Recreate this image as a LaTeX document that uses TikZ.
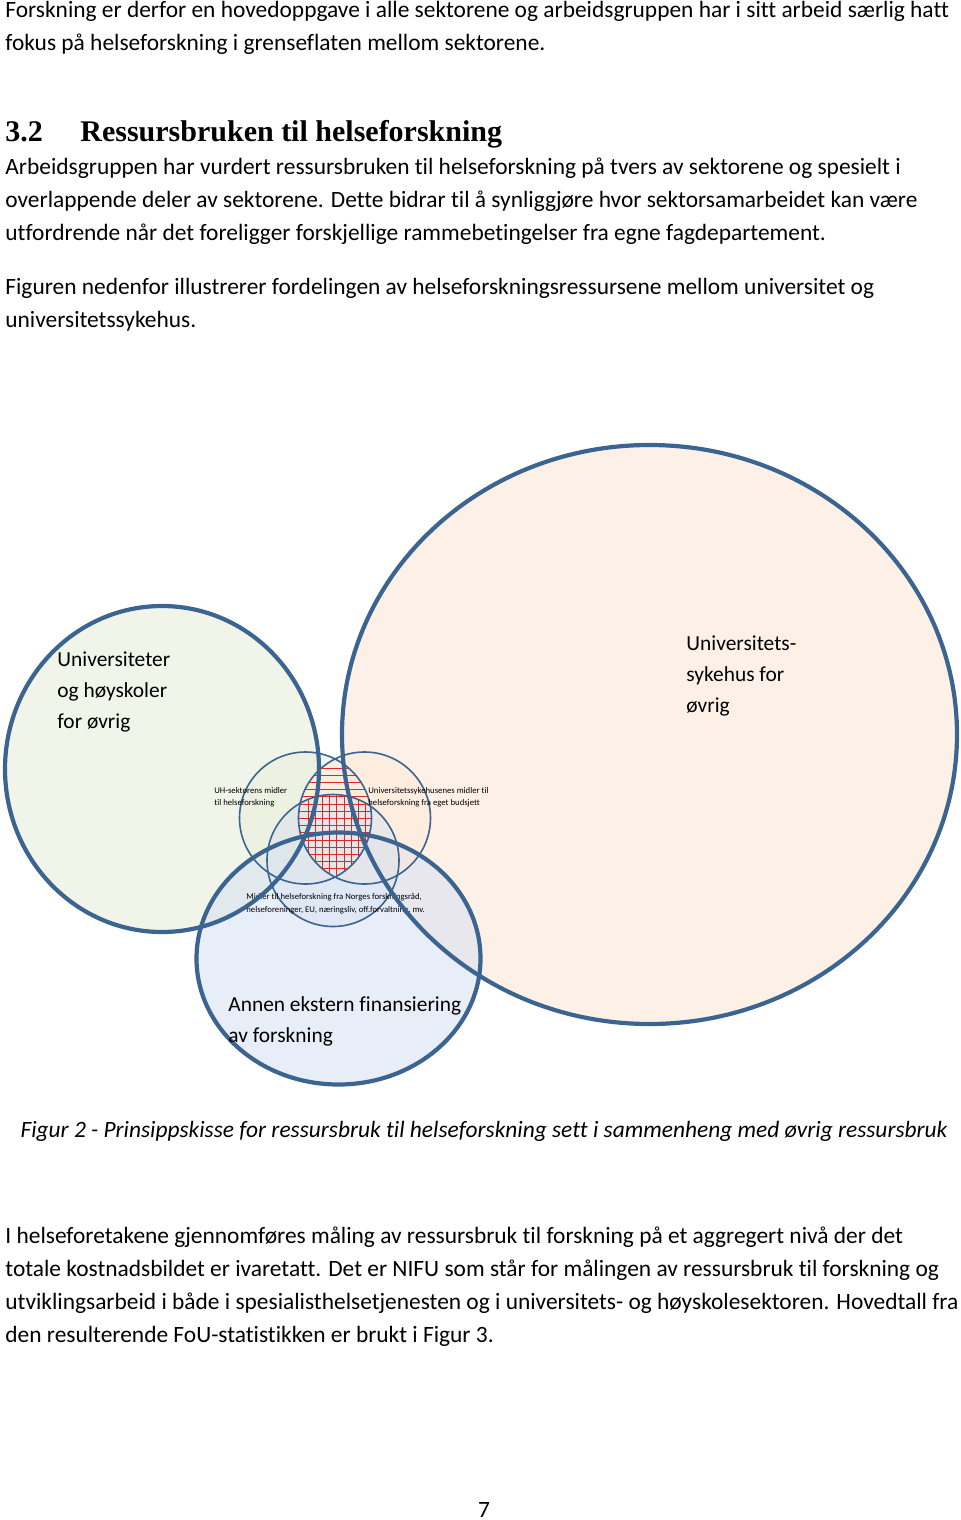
\documentclass[tikz,border=0pt]{standalone}
\usepackage{fontspec}
\setmainfont{Carlito}[Ligatures=NoCommon]
\newfontfamily\headfont{Liberation Serif}
\definecolor{rim}{RGB}{60,100,145}
\definecolor{uhfill}{RGB}{232,237,218}
\definecolor{usfill}{RGB}{252,232,215}
\definecolor{extfill}{RGB}{216,226,242}
\definecolor{gridred}{RGB}{222,40,40}
\tikzset{
  bigring/.style={draw=rim, line width=2.1pt},
  smallring/.style={draw=rim, line width=0.8pt},
  pagetext/.style={anchor=base west, inner sep=0pt, font=\fontsize{11.7}{16.5}\selectfont},
  setname/.style={anchor=base west, inner sep=0pt, font=\fontsize{10.7}{15.5}\selectfont},
  smalltext/.style={anchor=base west, inner sep=0pt, font=\fontsize{4.35}{6.2}\selectfont},
}
\begin{document}
\begin{tikzpicture}[x=0.5pt, y=-0.5pt]
        \useasboundingbox (0,0) rectangle (960,1520);

        \coordinate (bigc) at (649.5,734.5);
        \coordinate (leftc) at (162,769);
        \coordinate (extc) at (338.5,958.5);
        \coordinate (uhc) at (305.5,818);
        \coordinate (usc) at (364.5,818);
        \coordinate (midc) at (333,860.5);

        % store sirkler
        \fill[usfill, fill opacity=0.6] (bigc) ellipse [x radius=307.5, y radius=289.5];
        \fill[uhfill, fill opacity=0.6] (leftc) ellipse [x radius=157, y radius=163];
        \fill[extfill, fill opacity=0.6] (extc) ellipse [x radius=142, y radius=126];

        % små sirkler
        \fill[uhfill, fill opacity=0.5] (uhc) circle [radius=66];
        \fill[usfill, fill opacity=0.5] (usc) circle [radius=66];
        \fill[extfill, fill opacity=0.5] (midc) circle [radius=66];

        \begin{scope}
            \clip (uhc) circle [radius=66];
            \clip (usc) circle [radius=66];
            \foreach \y in {768,775.2,...,884}
                \draw[gridred, line width=0.5pt] (290,\y) -- (380,\y);
            \clip (midc) circle [radius=66];
            \foreach \x in {308,315.2,...,372}
                \draw[gridred, line width=0.5pt] (\x,790) -- (\x,890);
        \end{scope}

        \draw[smallring] (uhc) circle [radius=66];
        \draw[smallring] (usc) circle [radius=66];
        \draw[smallring] (midc) circle [radius=66];

        \node[smalltext] (uh1) at (214,793) {UH-sektorens midler};
        \node[smalltext] (uh2) at (214,805) {til helseforskning};
        \node[smalltext] (us1) at (368,793) {Universitetssykehusenes midler til};
        \node[smalltext] (us2) at (368,805) {helseforskning fra eget budsjett};
        \node[smalltext] (mid1) at (246,899) {Midler til helseforskning fra Norges forskningsråd,};
        \node[smalltext] (mid2) at (246,912) {helseforeninger, EU, næringsliv, off.forvaltning, mv.};

        \draw[bigring] (bigc) ellipse [x radius=307.5, y radius=289.5];
        \draw[bigring] (leftc) ellipse [x radius=157, y radius=163];
        \draw[bigring] (extc) ellipse [x radius=142, y radius=126];

        \node[setname] (uho1) at (57,666) {Universiteter};
        \node[setname] (uho2) at (57,697) {og høyskoler};
        \node[setname] (uho3) at (57,728) {for øvrig};
        \node[setname] (uso1) at (686,650) {Universitets-};
        \node[setname] (uso2) at (686,681) {sykehus for};
        \node[setname] (uso3) at (686,712) {øvrig};
        \node[setname] (ext1) at (228,1011) {Annen ekstern finansiering};
        \node[setname] (ext2) at (228,1042) {av forskning};

        % sidetekst
        \node[pagetext] (t1) at (5,18) {Forskning er derfor en hovedoppgave i alle sektorene og arbeidsgruppen har i sitt arbeid særlig hatt};
        \node[pagetext] (t2) at (5,51) {fokus på helseforskning i grenseflaten mellom sektorene.};

        \node[anchor=base west, inner sep=0pt, font=\headfont\bfseries\fontsize{15}{18}\selectfont] (hnum) at (5,141) {3.2};
        \node[anchor=base west, inner sep=0pt, font=\headfont\bfseries\fontsize{15}{18}\selectfont] (head) at (80,141) {Ressursbruken til helseforskning};

        \node[pagetext] (a1) at (5,174) {Arbeidsgruppen har vurdert ressursbruken til helseforskning på tvers av sektorene og spesielt i};
        \node[pagetext] (a2) at (5,207) {overlappende deler av sektorene. Dette bidrar til å synliggjøre hvor sektorsamarbeidet kan være};
        \node[pagetext] (a3) at (5,240) {utfordrende når det foreligger forskjellige rammebetingelser fra egne fagdepartement.};

        \node[pagetext] (f1) at (5,294) {Figuren nedenfor illustrerer fordelingen av helseforskningsressursene mellom universitet og};
        \node[pagetext] (f2) at (5,327) {universitetssykehus.};

        \node[anchor=base, inner sep=0pt, font=\fontsize{11.7}{16.5}\selectfont\itshape] (cap) at (484,1137) {Figur 2 - Prinsippskisse for ressursbruk til helseforskning sett i sammenheng med øvrig ressursbruk};

        \node[pagetext] (b1) at (5,1243) {I helseforetakene gjennomføres måling av ressursbruk til forskning på et aggregert nivå der det};
        \node[pagetext] (b2) at (5,1276) {totale kostnadsbildet er ivaretatt. Det er NIFU som står for målingen av ressursbruk til forskning og};
        \node[pagetext] (b3) at (5,1309) {utviklingsarbeid i både i spesialisthelsetjenesten og i universitets- og høyskolesektoren. Hovedtall fra};
        \node[pagetext] (b4) at (5,1342) {den resulterende FoU-statistikken er brukt i Figur 3.};

        \node[anchor=base, inner sep=0pt, font=\fontsize{11.7}{16.5}\selectfont] (pnum) at (484,1517) {7};

    \end{tikzpicture}
\end{document}
